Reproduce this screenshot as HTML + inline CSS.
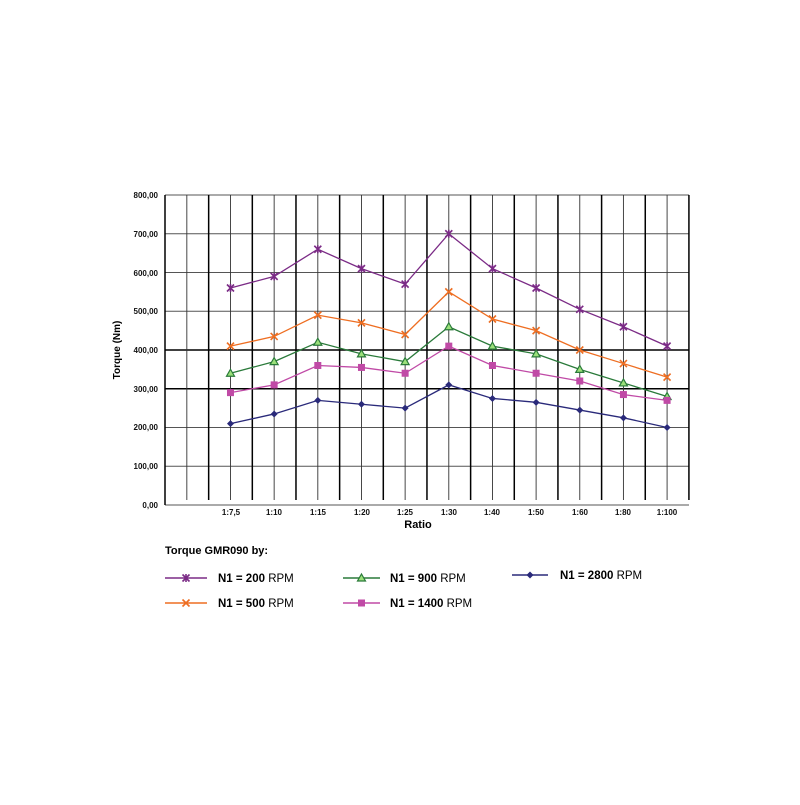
<!DOCTYPE html><html><head><meta charset="utf-8"><style>body{margin:0;background:#fff}</style></head><body>
<svg width="800" height="800" xmlns="http://www.w3.org/2000/svg" font-family="Liberation Sans, Arial, sans-serif">
<g id="grid"></g>
<g id="data"></g>
<g font-size="8" font-weight="bold" text-anchor="end" fill="#111">
<text x="158" y="198">800,00</text><text x="158" y="237">700,00</text><text x="158" y="276">600,00</text><text x="158" y="314">500,00</text><text x="158" y="353">400,00</text><text x="158" y="392">300,00</text><text x="158" y="430">200,00</text><text x="158" y="469">100,00</text><text x="158" y="508">0,00</text>
</g>
<g font-size="8" font-weight="bold" text-anchor="middle" fill="#111">
<text x="231" y="515">1:7,5</text><text x="274" y="515">1:10</text><text x="318" y="515">1:15</text><text x="362" y="515">1:20</text><text x="405" y="515">1:25</text><text x="449" y="515">1:30</text><text x="492" y="515">1:40</text><text x="536" y="515">1:50</text><text x="580" y="515">1:60</text><text x="623" y="515">1:80</text><text x="667" y="515">1:100</text>
</g>
<text x="418" y="528" font-size="11" font-weight="bold" text-anchor="middle">Ratio</text>
<text transform="translate(120,350) rotate(-90)" font-size="10" font-weight="bold" text-anchor="middle">Torque (Nm)</text>
<text x="165" y="554" font-size="11" font-weight="bold">Torque GMR090 by:</text>
<g font-size="11.5"><g id="leg"></g>
<text x="218" y="582"><tspan font-weight="bold">N1 = 200</tspan>  RPM</text>
<text x="390" y="582"><tspan font-weight="bold">N1 = 900</tspan>  RPM</text>
<text x="560" y="579"><tspan font-weight="bold">N1 = 2800</tspan>  RPM</text>
<text x="218" y="607"><tspan font-weight="bold">N1 = 500</tspan>  RPM</text>
<text x="390" y="607"><tspan font-weight="bold">N1 = 1400</tspan>  RPM</text>
</g>
</svg>
<script>
const NS="http://www.w3.org/2000/svg";
function el(p,t,a){const e=document.createElementNS(NS,t);for(const k in a)e.setAttribute(k,a[k]);p.appendChild(e);return e;}
const g=document.getElementById('grid'),d=document.getElementById('data'),lg=document.getElementById('leg');
const X0=165,DX=21.83,Y0=505,S=0.3875;
for(let i=0;i<=8;i++){const y=Y0-i*38.75;const th=(i==3||i==4);el(g,'line',{x1:X0,x2:689,y1:y,y2:y,stroke:th?'#000':'#555','stroke-width':th?1.6:0.9});}
for(let k=0;k<=24;k++){const x=X0+k*DX;el(g,'line',{x1:x,x2:x,y1:195,y2:k==0?505:500,stroke:k%2==0?'#000':'#333','stroke-width':k%2==0?1.5:0.9});}
const series=[
{c:'#7b2b86',m:'star',v:[560,590,660,610,570,700,610,560,505,460,410]},
{c:'#ee6e22',m:'x',v:[410,435,490,470,440,550,480,450,400,365,330]},
{c:'#2a7a3a',m:'tri',v:[340,370,420,390,370,460,410,390,350,315,280]},
{c:'#c04aa6',m:'sq',v:[290,310,360,355,340,410,360,340,320,285,270]},
{c:'#2a2a7a',m:'dia',v:[210,235,270,260,250,310,275,265,245,225,200]}];
function mark(p,m,x,y,c){
 if(m=='star'||m=='x'){el(p,'path',{d:`M${x-3.5} ${y-3.5}L${x+3.5} ${y+3.5}M${x-3.5} ${y+3.5}L${x+3.5} ${y-3.5}`+(m=='star'?`M${x} ${y-4}L${x} ${y+4}`:''),stroke:c,'stroke-width':1.6});}
 else if(m=='tri')el(p,'path',{d:`M${x} ${y-4}L${x+4} ${y+3}L${x-4} ${y+3}Z`,fill:'#9be07a',stroke:c,'stroke-width':1.2});
 else if(m=='sq')el(p,'rect',{x:x-3.5,y:y-3.5,width:7,height:7,fill:c});
 else el(p,'path',{d:`M${x} ${y-3.5}L${x+3.5} ${y}L${x} ${y+3.5}L${x-3.5} ${y}Z`,fill:c});
}
series.forEach(s=>{const pts=s.v.map((v,i)=>[X0+(3+2*i)*DX,Y0-v*S]);
 el(d,'polyline',{points:pts.map(p=>p.join(',')).join(' '),fill:'none',stroke:s.c,'stroke-width':1.3});
 pts.forEach(p=>mark(d,s.m,p[0],p[1],s.c));});
const L=[[0,165,207,578],[2,343,380,578],[4,512,548,575],[1,165,207,603],[3,343,380,603]];
L.forEach(([i,a,b,y])=>{const s=series[i];el(lg,'line',{x1:a,x2:b,y1:y,y2:y,stroke:s.c,'stroke-width':1.5});mark(lg,s.m,(a+b)/2,y,s.c);});
</script>
</body></html>
